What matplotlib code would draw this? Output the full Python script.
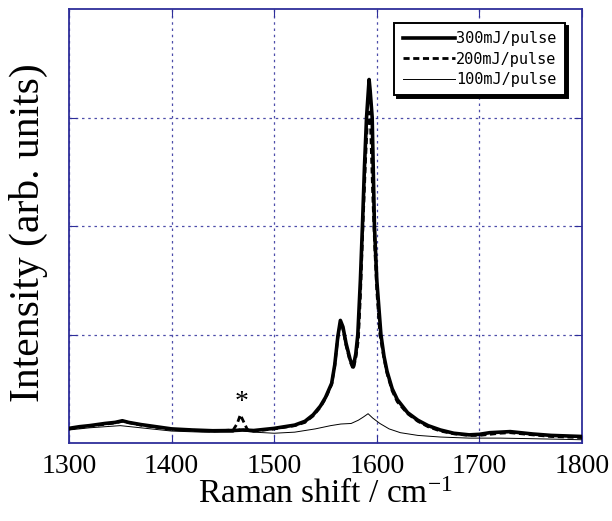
import numpy as np
import matplotlib
matplotlib.use("Agg")
import matplotlib.pyplot as plt

plt.rcParams["font.family"] = ["Liberation Serif", "DejaVu Serif"]
plt.rcParams["mathtext.fontset"] = "custom"
plt.rcParams["mathtext.rm"] = "Liberation Serif"
plt.rcParams["mathtext.it"] = "Liberation Serif:italic"

# spectra (Raman shift in cm-1, intensity in arb. units)
x300 = [1300, 1310, 1320, 1335, 1345, 1352, 1358, 1370, 1385, 1400,
        1420, 1440, 1460, 1470, 1480, 1500, 1510, 1520, 1530, 1538,
        1545, 1550, 1556, 1559, 1562, 1564.5, 1567, 1570, 1574, 1577,
        1579.5, 1581.5, 1584, 1586, 1588, 1590, 1592.5, 1593.5, 1595.5, 1597.7,
        1600, 1604, 1607, 1610, 1615, 1620, 1630, 1640, 1650, 1662,
        1675, 1690, 1700, 1710, 1720, 1730, 1740, 1752, 1770, 1785, 1800]
y300 = [0.135, 0.15, 0.16, 0.18, 0.19, 0.205, 0.19, 0.17, 0.15, 0.13,
        0.12, 0.113, 0.115, 0.12, 0.115, 0.135, 0.15, 0.165, 0.2, 0.26,
        0.34, 0.42, 0.55, 0.72, 0.98, 1.13, 1.07, 0.92, 0.77, 0.70,
        0.82, 1.0, 1.5, 2.0, 2.55, 3.0, 3.35, 3.25, 3.0, 2.0,
        1.5, 1.0, 0.80, 0.66, 0.50, 0.40, 0.28, 0.21, 0.16, 0.12,
        0.09, 0.075, 0.08, 0.095, 0.10, 0.105, 0.095, 0.083, 0.07, 0.065, 0.06]

x200 = [1300, 1320, 1345, 1352, 1370, 1400, 1440, 1460, 1464, 1467,
        1470, 1474, 1480, 1500, 1520, 1530, 1538, 1545, 1550, 1556,
        1559, 1562, 1564.5, 1567, 1570, 1574, 1577, 1579.5, 1582, 1584,
        1586.5, 1589, 1590.5, 1592.5, 1594, 1596, 1598, 1600, 1603, 1607,
        1610, 1615, 1620, 1630, 1640, 1650, 1662, 1675, 1690, 1700,
        1720, 1730, 1752, 1770, 1800]
y200 = [0.13, 0.155, 0.185, 0.2, 0.165, 0.125, 0.11, 0.12, 0.18, 0.26,
        0.2, 0.12, 0.11, 0.13, 0.16, 0.19, 0.25, 0.33, 0.41, 0.54,
        0.71, 0.97, 1.11, 1.05, 0.90, 0.75, 0.68, 0.78, 0.95, 1.35,
        2.0, 2.6, 2.9, 3.05, 2.9, 2.3, 1.8, 1.4, 1.0, 0.78,
        0.64, 0.48, 0.38, 0.27, 0.2, 0.15, 0.11, 0.085, 0.07, 0.07,
        0.09, 0.095, 0.075, 0.06, 0.05]

x100 = [1300, 1320, 1350, 1380, 1400, 1430, 1460, 1466, 1470, 1480,
        1500, 1520, 1540, 1555, 1565, 1575, 1582, 1587, 1591.5, 1596,
        1603, 1612, 1623, 1640, 1662, 1690, 1720, 1750, 1800]
y100 = [0.12, 0.14, 0.16, 0.13, 0.11, 0.10, 0.10, 0.13, 0.11, 0.10,
        0.09, 0.10, 0.13, 0.16, 0.175, 0.18, 0.21, 0.24, 0.27, 0.23,
        0.18, 0.13, 0.095, 0.07, 0.055, 0.045, 0.045, 0.04, 0.03]

labels = ["300mJ/pulse", "200mJ/pulse", "100mJ/pulse"]
xticks = [1300, 1400, 1500, 1600, 1700, 1800]
yticks = [1, 2, 3]

navy = "#2e2e9a"

fig = plt.figure(figsize=(6.12, 5.21), dpi=100)
ax = fig.add_axes([69/612, 78/521, 513/612, 434/521])

ax.plot(x300, y300, color="k", lw=2.6, label=labels[0], zorder=3)
ax.plot(x200, y200, color="k", lw=2.0, ls=(0, (2.2, 1.3)), label=labels[1], zorder=4)
ax.plot(x100, y100, color="k", lw=0.7, label=labels[2], zorder=5)

ax.text(1468, 0.37, "*", fontsize=20, ha="center", va="center")

ax.set_xlim(1300, 1800)
ax.set_ylim(0, 4)
ax.set_xticks(xticks)
ax.set_yticks(yticks)
ax.set_yticklabels([])
ax.grid(True, color=navy, ls=(0, (2, 3)), lw=0.9, alpha=0.85)
ax.tick_params(direction="in", length=6, color=navy, top=True, right=True,
               labelsize=20, pad=8)
for s in ax.spines.values():
    s.set_color(navy)
    s.set_linewidth(1.3)

ax.set_xlabel("Raman shift / cm$^{-1}$", fontsize=24, labelpad=0)
ax.set_ylabel("Intensity (arb. units)", fontsize=30)
ax.yaxis.set_label_coords(-0.040, 0.485)

leg = ax.legend(loc="upper right", bbox_to_anchor=(0.967, 0.968), borderaxespad=0,
                fancybox=False, shadow={"color": "k", "alpha": 1},
                prop={"family": "DejaVu Sans Mono", "size": 11},
                handlelength=3.4, handletextpad=0.1, labelspacing=0.35,
                borderpad=0.55, framealpha=1)
leg.get_frame().set_edgecolor("k")
leg.get_frame().set_linewidth(1.4)

fig.savefig("out.png", dpi=100)
